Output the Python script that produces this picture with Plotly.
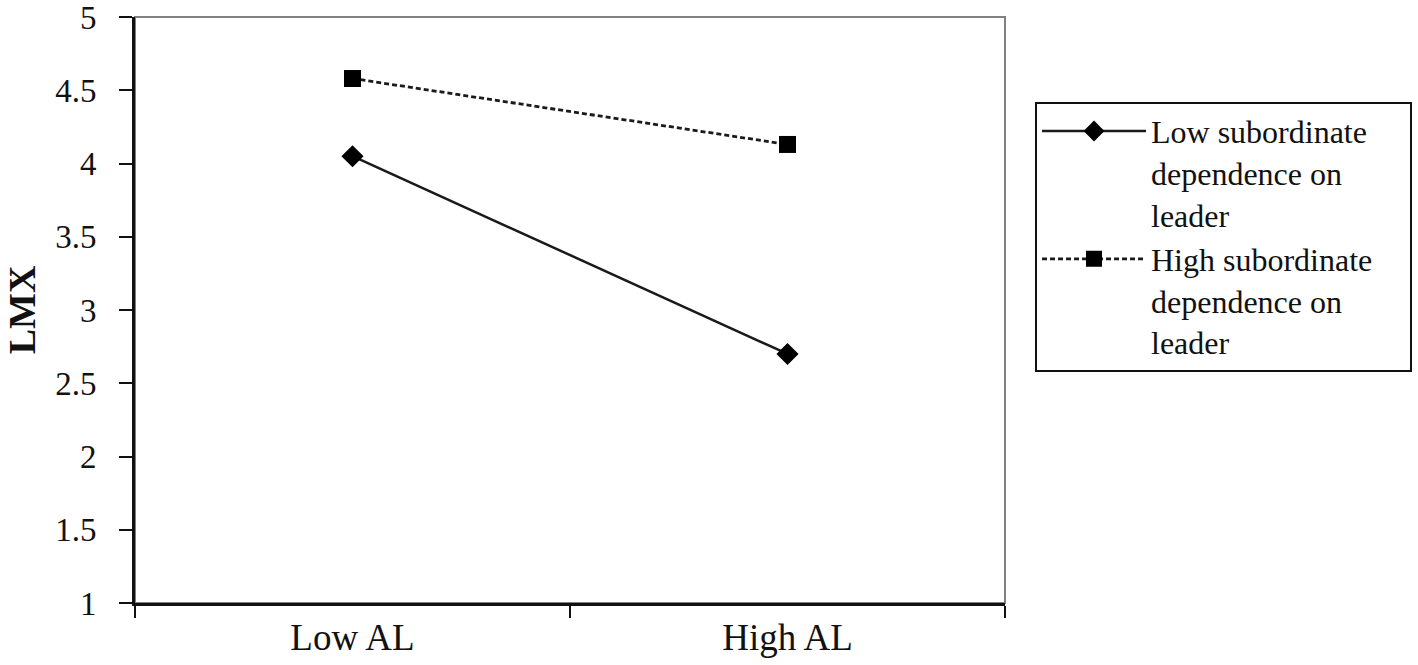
import plotly.graph_objects as go

categories = ["Low AL", "High AL"]
low_dep = [4.05, 2.70]
high_dep = [4.58, 4.13]
series_names = ["Low subordinate<br>dependence on<br>leader", "High subordinate\u00a0\u00a0\u00a0\u00a0<br>dependence on<br>leader"]
y_ticks = [1, 1.5, 2, 2.5, 3, 3.5, 4, 4.5, 5]
y_ticklabels = ["1", "1.5", "2", "2.5", "3", "3.5", "4", "4.5", "5"]

FONT = "Liberation Serif, Times New Roman, serif"

fig = go.Figure()
fig.add_trace(go.Scatter(
    x=categories, y=low_dep, name=series_names[0], mode="lines+markers",
    line=dict(color="#1a1a1a", width=2.5),
    marker=dict(symbol="diamond", size=17, color="#000000"),
))
fig.add_trace(go.Scatter(
    x=categories, y=high_dep, name=series_names[1], mode="lines+markers",
    line=dict(color="#1a1a1a", width=2.8, dash="5px,3px"),
    marker=dict(symbol="square", size=17, color="#000000"),
))

# thin gray frame around plot area
fig.add_shape(type="rect", xref="paper", yref="paper", x0=0, x1=1, y0=0, y1=1,
              line=dict(color="#808080", width=2), layer="below")

fig.update_layout(
    width=1418, height=665,
    margin=dict(l=135, r=413, t=17, b=62, autoexpand=False),
    paper_bgcolor="white", plot_bgcolor="white",
    font=dict(family=FONT, size=33, color="#111111"),
    showlegend=True,
    legend=dict(
        x=1.0345, y=0.8555, xanchor="left", yanchor="top",
        bordercolor="#111111", borderwidth=2, bgcolor="white",
        font=dict(family=FONT, size=32, color="#111111"),
        itemwidth=104, valign="top", tracegroupgap=0,
    ),
)
fig.update_xaxes(
    type="category", range=[-0.5, 1.5], automargin=False,
    showline=True, linecolor="#111111", linewidth=3,
    ticks="outside", tickson="boundaries", ticklen=12, tickwidth=2, tickcolor="#111111",
    showgrid=False, zeroline=False,
    tickfont=dict(family=FONT, size=37),
)
fig.update_yaxes(
    range=[1, 5], tickvals=y_ticks, ticktext=y_ticklabels, automargin=False,
    showline=True, linecolor="#111111", linewidth=3,
    ticks="outside", ticklen=13, tickwidth=2, tickcolor="#111111",
    showgrid=False, zeroline=False,
    title=dict(text="<b>LMX</b>", font=dict(family=FONT, size=38), standoff=8),
    tickfont=dict(family=FONT, size=33),
    ticklabelstandoff=16, ticklabeloverflow="allow",
)

fig.write_html("out.html", config={"displayModeBar": False},
               post_script="document.body.style.margin='0';")
